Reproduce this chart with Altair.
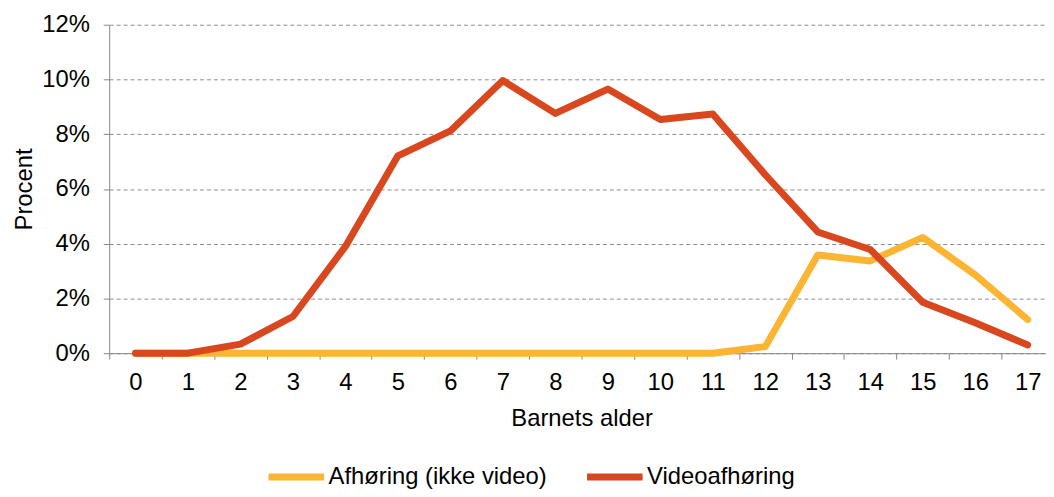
import altair as alt
import pandas as pd

ages = list(range(18))
afhoring = [0, 0, 0, 0, 0, 0, 0, 0, 0, 0, 0, 0, 0.0024, 0.0359, 0.0337, 0.0423, 0.0286, 0.0123]
video = [0, 0, 0.0033, 0.0134, 0.039, 0.0721, 0.0812, 0.0996, 0.0876, 0.0965, 0.0854, 0.0874, 0.0652, 0.0443, 0.0379, 0.0186, 0.0111, 0.0030]
series = ["Afhøring (ikke video)", "Videoafhøring"]
colors = ["#FBB532", "#D9471E"]
y_ticks = [0, 0.02, 0.04, 0.06, 0.08, 0.10, 0.12]

rows = []
for name, vals in zip(series, [afhoring, video]):
    for a, v in zip(ages, vals):
        rows.append({"alder": str(a), "pct": v, "serie": name})
df = pd.DataFrame(rows)

FONT = "Liberation Sans"
FS = 24

chart = alt.Chart(df).mark_line(strokeWidth=7, strokeCap="round", strokeJoin="round").encode(
    x=alt.X("alder:N", sort=[str(a) for a in ages],
            scale=alt.Scale(type="band", range=[0, 952], paddingInner=0, paddingOuter=0),
            axis=alt.Axis(title="Barnets alder", labelAngle=0, tickBand="extent",
                          domainColor="#868686", tickColor="#868686", tickSize=6,
                          labelFontSize=FS, titleFontSize=FS, labelPadding=12, titlePadding=12,
                          labelFont=FONT, titleFont=FONT, titleFontWeight="normal",
                          labelColor="#000000", titleColor="#000000", grid=False)),
    y=alt.Y("pct:Q", scale=alt.Scale(domain=[0, 0.12], nice=False),
            axis=alt.Axis(title="Procent", format=".0%", values=y_ticks,
                          domainColor="#868686", tickColor="#868686", tickSize=6,
                          gridColor="#8c8c8c", gridDash=[4, 3], gridWidth=1,
                          labelFontSize=FS, titleFontSize=FS, labelPadding=14, titlePadding=5,
                          labelFont=FONT, titleFont=FONT, titleFontWeight="normal",
                          labelColor="#000000", titleColor="#000000")),
    color=alt.Color("serie:N", sort=series,
                    scale=alt.Scale(domain=series, range=colors),
                    legend=alt.Legend(title=None, orient="none", direction="horizontal",
                                      legendX=157, legendY=424, labelLimit=400,
                                      symbolType="stroke", symbolSize=3136, symbolStrokeWidth=7,
                                      labelFontSize=FS, labelFont=FONT, labelColor="#000000",
                                      labelOffset=1, columnPadding=25)),
).properties(
    width=944, height=331,
    autosize=alt.AutoSizeParams(type="none"),
    padding={"left": 102, "top": 15, "right": 0, "bottom": 135},
).configure_view(stroke=None)

chart.save("out.html", embed_options={"renderer": "svg", "actions": False})
